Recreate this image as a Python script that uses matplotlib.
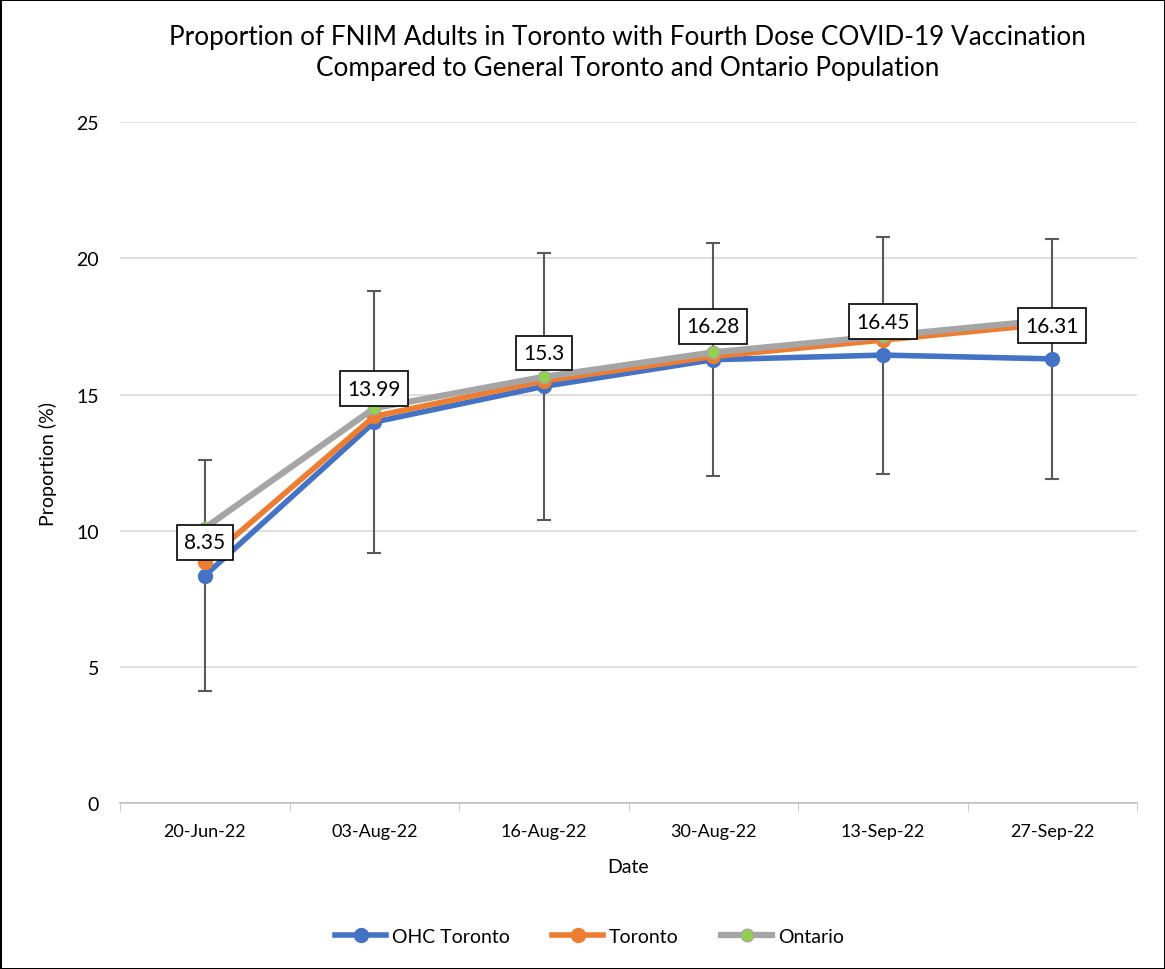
import matplotlib
matplotlib.use('Agg')
import matplotlib.pyplot as plt
import numpy as np

plt.rcParams['font.family'] = ['Lato', 'DejaVu Sans']

# ---------- data ----------
dates = ['20-Jun-22', '03-Aug-22', '16-Aug-22', '30-Aug-22', '13-Sep-22', '27-Sep-22']
ohc_toronto = [8.35, 13.99, 15.3, 16.28, 16.45, 16.31]
ohc_low = [4.1, 9.2, 10.4, 12.0, 12.1, 11.9]
ohc_high = [12.6, 18.8, 20.2, 20.55, 20.8, 20.7]
toronto = [8.85, 14.2, 15.5, 16.4, 17.0, 17.6]
ontario = [10.1, 14.5, 15.65, 16.55, 17.15, 17.75]

x = np.arange(len(dates))
ohc = np.array(ohc_toronto)
yerr = [ohc - np.array(ohc_low), np.array(ohc_high) - ohc]

fig = plt.figure(figsize=(11.65, 9.70), dpi=100)
fig.patch.set_edgecolor('black')
fig.patch.set_linewidth(2)
ax = fig.add_axes([0.103, 0.171, 0.873, 0.702])

ax.errorbar(x, ohc, yerr=yerr, fmt='none', ecolor='#595959', elinewidth=1.5,
            capsize=5, capthick=1.5, zorder=2)
ax.plot(x, ohc, color='#4472C4', lw=4, marker='o', ms=10, label='OHC Toronto', zorder=3)
ax.plot(x, toronto, color='#ED7D31', lw=4, marker='o', ms=10, label='Toronto', zorder=4)
ax.plot(x, ontario, color='#A5A5A5', lw=4.5, marker='o', ms=9, mfc='#92D050',
        mec='#A5A5A5', label='Ontario', zorder=5)

for xi, v in zip(x, ohc_toronto):
    ax.annotate(f'{v:g}', (xi, v), xytext=(0, 24), textcoords='offset points',
                ha='center', va='center', fontsize=15, zorder=10,
                bbox=dict(boxstyle='square,pad=0.35', fc='white', ec='black', lw=1.2))

ax.set_xlim(-0.5, 5.5)
ax.set_ylim(0, 25)
ax.set_yticks([0, 5, 10, 15, 20, 25])
ax.set_xticks(x)
ax.set_xticklabels(dates)
ax.set_xticks(np.arange(-0.5, 6, 1), minor=True)
ax.tick_params(axis='x', which='major', length=0, pad=14, labelsize=13)
ax.tick_params(axis='x', which='minor', length=6, color='#BFBFBF')
ax.tick_params(axis='y', length=0, pad=15, labelsize=14)
ax.grid(axis='y', color='#D9D9D9', lw=1.2)
ax.set_axisbelow(True)
for s in ['top', 'right', 'left']:
    ax.spines[s].set_visible(False)
ax.spines['bottom'].set_color('#BFBFBF')
ax.spines['bottom'].set_linewidth(1.2)

ax.set_xlabel('Date', fontsize=14, labelpad=14)
ax.set_ylabel('Proportion (%)', fontsize=14, labelpad=14)
fig.text(0.539, 0.945, 'Proportion of FNIM Adults in Toronto with Fourth Dose COVID-19 Vaccination\n'
         'Compared to General Toronto and Ontario Population',
         ha='center', va='center', fontsize=18.8, linespacing=1.3)

fig.legend(loc='center', bbox_to_anchor=(0.506, 0.034), ncol=3, frameon=False,
           fontsize=14, handlelength=2.6, columnspacing=2.2, handletextpad=0.3)

fig.savefig('out.png', dpi=100)
